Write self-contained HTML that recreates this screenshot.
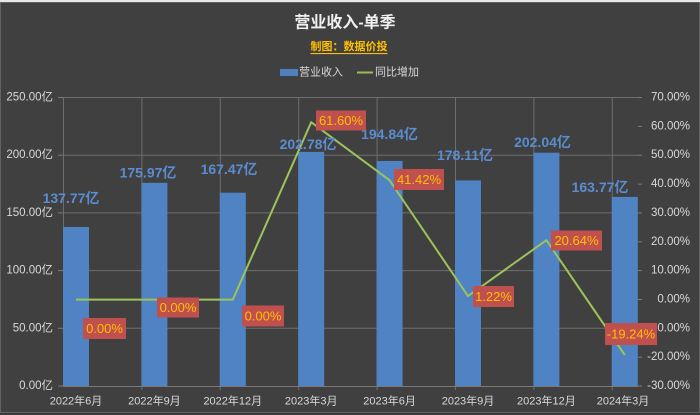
<!DOCTYPE html>
<html>
<head>
<meta charset="utf-8">
<style>
  html,body{margin:0;padding:0;background:#3a3a3a;}
  body{width:700px;height:415px;overflow:hidden;position:relative;}
  svg{position:absolute;left:0;top:0;}
  .cjk{font-family:"Liberation Sans","Noto Sans CJK SC",sans-serif;}
</style>
</head>
<body>
<svg width="700" height="415" viewBox="0 0 700 415" xmlns="http://www.w3.org/2000/svg" class="cjk">
  <!-- frame -->
  <rect x="0" y="0" width="700" height="415" fill="#3a3a3a"/>
  <rect x="0" y="0" width="700" height="2" fill="#e8e8e8"/>
  <rect x="0.5" y="2.5" width="699" height="410" fill="#404040" stroke="#626262" stroke-width="1"/>

  <!-- title -->
  <text x="345" y="23" text-anchor="middle" dominant-baseline="central" font-size="16" font-weight="bold" fill="#f0f0f0">营业收入-单季</text>
  <text x="349" y="47" text-anchor="middle" dominant-baseline="central" font-size="11" font-weight="bold" fill="#ffc000" text-decoration="underline">制图：数据价投</text>

  <!-- legend -->
  <rect x="280" y="69" width="18" height="7" fill="#4f81bd"/>
  <text x="299" y="72.5" dominant-baseline="central" font-size="11" fill="#d9d9d9">营业收入</text>
  <line x1="357" y1="72.5" x2="373" y2="72.5" stroke="#9bbb59" stroke-width="2"/>
  <text x="375" y="72.5" dominant-baseline="central" font-size="11" fill="#d9d9d9">同比增加</text>

  <!-- horizontal gridlines -->
  <g stroke="#6e6e6e" stroke-width="1">
    <line x1="63" y1="97.5" x2="638" y2="97.5"/>
    <line x1="63" y1="155.2" x2="638" y2="155.2"/>
    <line x1="63" y1="212.9" x2="638" y2="212.9"/>
    <line x1="63" y1="270.6" x2="638" y2="270.6"/>
    <line x1="63" y1="328.3" x2="638" y2="328.3"/>
  </g>
  <!-- vertical gridlines -->
  <g stroke="#6e6e6e" stroke-width="1">
    <line x1="63.5" y1="97" x2="63.5" y2="386"/>
    <line x1="141.9" y1="97" x2="141.9" y2="390"/>
    <line x1="220.3" y1="97" x2="220.3" y2="390"/>
    <line x1="298.7" y1="97" x2="298.7" y2="390"/>
    <line x1="377.1" y1="97" x2="377.1" y2="390"/>
    <line x1="455.5" y1="97" x2="455.5" y2="390"/>
    <line x1="533.9" y1="97" x2="533.9" y2="390"/>
    <line x1="612.3" y1="97" x2="612.3" y2="390"/>
  </g>
  <!-- left ticks -->
  <g stroke="#7a7a7a" stroke-width="1">
    <line x1="58" y1="97.5" x2="63" y2="97.5"/>
    <line x1="58" y1="155.2" x2="63" y2="155.2"/>
    <line x1="58" y1="212.9" x2="63" y2="212.9"/>
    <line x1="58" y1="270.6" x2="63" y2="270.6"/>
    <line x1="58" y1="328.3" x2="63" y2="328.3"/>
    <line x1="58" y1="386" x2="63" y2="386"/>
  </g>
  <!-- right axis ticks -->
  <g stroke="#7a7a7a" stroke-width="1">
    <line x1="638" y1="97.5" x2="642" y2="97.5"/>
    <line x1="638" y1="126.4" x2="642" y2="126.4"/>
    <line x1="638" y1="155.2" x2="642" y2="155.2"/>
    <line x1="638" y1="184.1" x2="642" y2="184.1"/>
    <line x1="638" y1="212.9" x2="642" y2="212.9"/>
    <line x1="638" y1="241.8" x2="642" y2="241.8"/>
    <line x1="638" y1="270.6" x2="642" y2="270.6"/>
    <line x1="638" y1="299.5" x2="642" y2="299.5"/>
    <line x1="638" y1="328.3" x2="642" y2="328.3"/>
    <line x1="638" y1="357.2" x2="642" y2="357.2"/>
    <line x1="638" y1="386" x2="642" y2="386"/>
  </g>

  <!-- bars -->
  <g fill="#4f83c3">
    <rect x="63" y="227" width="26" height="159"/>
    <rect x="141.4" y="182.8" width="26" height="203.2"/>
    <rect x="219.8" y="192.7" width="26" height="193.3"/>
    <rect x="298.2" y="151.9" width="26" height="234.1"/>
    <rect x="376.6" y="161" width="26" height="225"/>
    <rect x="455" y="180.4" width="26" height="205.6"/>
    <rect x="533.4" y="152.7" width="26" height="233.3"/>
    <rect x="611.8" y="196.9" width="26" height="189.1"/>
  </g>

  <!-- x axis -->
  <line x1="63" y1="386.5" x2="638" y2="386.5" stroke="#7a7a7a" stroke-width="1"/>

  <!-- line series -->
  <polyline fill="none" stroke="#9dc35a" stroke-width="2" stroke-linejoin="round"
    points="76,299.6 154.4,299.6 232.8,299.6 311.2,122.2 389.6,180.3 468,296.1 546.4,240.2 624.8,355"/>

  <!-- left axis labels -->
  <g font-size="11.5" fill="#d9d9d9" text-anchor="end" dominant-baseline="central">
    <text x="53" y="97.5">250.00亿</text>
    <text x="53" y="155.2">200.00亿</text>
    <text x="53" y="212.9">150.00亿</text>
    <text x="53" y="270.6">100.00亿</text>
    <text x="53" y="328.3">50.00亿</text>
    <text x="53" y="386">0.00亿</text>
  </g>
  <!-- right axis labels -->
  <g font-size="11.5" fill="#d9d9d9" text-anchor="end" dominant-baseline="central">
    <text x="690" y="97.5">70.00%</text>
    <text x="690" y="126.4">60.00%</text>
    <text x="690" y="155.2">50.00%</text>
    <text x="690" y="184.1">40.00%</text>
    <text x="690" y="212.9">30.00%</text>
    <text x="690" y="241.8">20.00%</text>
    <text x="690" y="270.6">10.00%</text>
    <text x="690" y="299.5">0.00%</text>
    <text x="690" y="328.3">-10.00%</text>
    <text x="690" y="357.2">-20.00%</text>
    <text x="690" y="386">-30.00%</text>
  </g>
  <!-- x labels -->
  <g font-size="11" fill="#d9d9d9" text-anchor="middle" dominant-baseline="central">
    <text x="76" y="401.5">2022年6月</text>
    <text x="154.4" y="401.5">2022年9月</text>
    <text x="232.8" y="401.5">2022年12月</text>
    <text x="311.2" y="401.5">2023年3月</text>
    <text x="389.6" y="401.5">2023年6月</text>
    <text x="468" y="401.5">2023年9月</text>
    <text x="546.4" y="401.5">2023年12月</text>
    <text x="623" y="401.5">2024年3月</text>
  </g>

  <!-- bar value labels -->
  <g font-size="14" font-weight="bold" fill="#5a8dd0" text-anchor="middle" dominant-baseline="central">
    <text x="71" y="198">137.77亿</text>
    <text x="148" y="172.7">175.97亿</text>
    <text x="229" y="169">167.47亿</text>
    <text x="308" y="144">202.78亿</text>
    <text x="389.5" y="134">194.84亿</text>
    <text x="465" y="155">178.11亿</text>
    <text x="542.5" y="142">202.04亿</text>
    <text x="600" y="187">163.77亿</text>
  </g>

  <!-- pct labels -->
  <g fill="#c0504d">
    <rect x="83" y="318" width="43" height="21"/>
    <rect x="157" y="297.5" width="42" height="20"/>
    <rect x="242" y="305.5" width="42" height="21"/>
    <rect x="316" y="110.5" width="50" height="20"/>
    <rect x="394" y="169" width="50" height="21"/>
    <rect x="473" y="286" width="41" height="21"/>
    <rect x="551" y="230.5" width="51" height="20"/>
    <rect x="605" y="323" width="52" height="22"/>
  </g>
  <g font-size="13" fill="#ffc000" text-anchor="middle" dominant-baseline="central">
    <text x="104.5" y="328.5">0.00%</text>
    <text x="178" y="307.5">0.00%</text>
    <text x="263" y="316">0.00%</text>
    <text x="341" y="120.5">61.60%</text>
    <text x="419" y="179.5">41.42%</text>
    <text x="493.5" y="296.5">1.22%</text>
    <text x="576.5" y="240.5">20.64%</text>
    <text x="631" y="334">-19.24%</text>
  </g>
</svg>
</body>
</html>
